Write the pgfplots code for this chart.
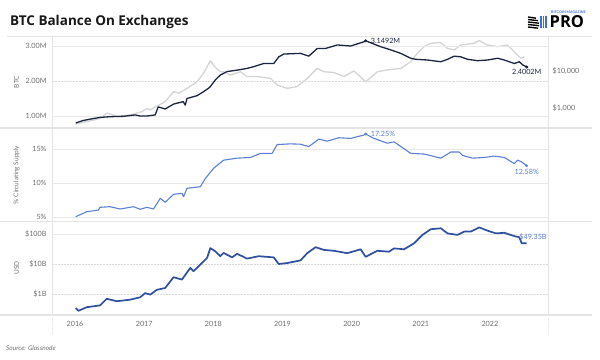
\documentclass[border=0pt]{standalone}
\usepackage{fontspec}
\setmainfont{Lato}
\newfontfamily\titlefont{Open Sans}
\usepackage{pgfplots}
\pgfplotsset{compat=1.18}
\definecolor{navy}{HTML}{1C2541}
\definecolor{pricegray}{HTML}{D4D4D4}
\definecolor{pctblue}{HTML}{5B80D6}
\definecolor{usdblue}{HTML}{2F4F9F}
\definecolor{tickgray}{HTML}{707070}
\definecolor{sepgray}{HTML}{E4E4E4}
\definecolor{logoblue}{HTML}{3D6FD8}

\pgfplotsset{
  panel/.style={
    scale only axis, width=496bp, xmin=2015.667, xmax=2022.84,
    anchor=south west,
    axis line style={draw=none}, major tick length=0pt, minor tick length=0pt,
    tick style={draw=none},
    ticklabel style={font=\fontsize{7.2bp}{8bp}\selectfont, text=tickgray},
    /pgf/number format/assume math mode=true,
    major grid style={draw=gray!18, line width=0.5bp},
    yticklabel style={xshift=-2bp},
    clip=false,
  }
}

\begin{document}
\begin{tikzpicture}
\useasboundingbox (0,0) rectangle (600bp,360bp);
\fill[white] (0,0) rectangle (600bp,360bp);

% frame lines
\draw[sepgray, line width=0.6bp] (7bp,324bp) -- (592bp,324bp);
\draw[sepgray, line width=1.6bp] (0bp,232bp) -- (592bp,232bp);
\draw[sepgray, line width=1.6bp] (0bp,138.5bp) -- (592bp,138.5bp);
\draw[sepgray, line width=1.6bp] (0bp,45bp) -- (592bp,45bp);
\draw[sepgray, line width=0.8bp] (52bp,324bp) -- (52bp,45bp);
\draw[sepgray, line width=0.8bp, densely dotted] (52bp,45bp) -- (52bp,27bp);
\draw[sepgray, line width=1bp] (548bp,324bp) -- (548bp,45bp);
\draw[sepgray, line width=1bp, densely dotted] (548bp,45bp) -- (548bp,27bp);

% title
\node[anchor=base west, inner sep=0pt, font=\titlefont\bfseries\fontsize{13.5bp}{15bp}\selectfont, text=black!90] at (10bp,334.5bp) {BTC Balance On Exchanges};
% source
\node[anchor=base west, inner sep=0pt, font=\itshape\fontsize{6.5bp}{8bp}\selectfont, text=tickgray] at (6bp,9.5bp) {Source: Glassnode};

% logo
\foreach \yy/\ll in {343/8,340.5/10,338/11,335.5/11,333/10}{
  \draw[black, line width=1.4bp] (528bp,\yy bp) -- ++(\ll bp,-1.2bp);
}
\foreach \xx in {541,543.5,546}{
  \draw[logoblue, line width=1.3bp] (\xx bp,344bp) -- (\xx bp,332bp);
}
\node[anchor=base west, inner sep=0pt, font=\bfseries\fontsize{3.6bp}{4bp}\selectfont, text=logoblue] at (551bp,346bp) {BITCOIN MAGAZINE};
\node[anchor=base west, inner sep=0pt, font=\titlefont\bfseries\fontsize{16.5bp}{18bp}\selectfont, text=black] at (549.5bp,332bp) {PRO};

% axis titles
\node[rotate=90, font=\fontsize{6.5bp}{8bp}\selectfont, text=tickgray] at (16.5bp,278bp) {BTC};
\node[rotate=90, font=\fontsize{6.5bp}{8bp}\selectfont, text=tickgray] at (16.5bp,185bp) {\% Circulating Supply};
\node[rotate=90, font=\fontsize{6.5bp}{8bp}\selectfont, text=tickgray] at (16.5bp,92bp) {USD};

% right-axis labels of the top panel (10,000 at 62.0% and 1,000 at 21.7% of the log range 288..88300)
\node[anchor=west, inner sep=0pt, font=\fontsize{7.2bp}{8bp}\selectfont, text=tickgray] at (552.5bp,289bp) {\$10,000};
\node[anchor=west, inner sep=0pt, font=\fontsize{7.2bp}{8bp}\selectfont, text=tickgray] at (552.5bp,252bp) {\$1,000};

% ---------- top panel: price (right axis) ----------
\begin{axis}[panel, at={(52bp,232bp)}, height=92bp,
  ymode=log, ymin=288, ymax=88300,
  xtick=\empty, ytick=\empty]
\addplot[pricegray, line width=1.3bp, line join=round] table {
2016.010 369
2016.170 427
2016.362 525
2016.459 724
2016.604 603
2016.797 646
2016.967 794
2017.039 977
2017.087 891
2017.184 1122
2017.304 1479
2017.425 2754
2017.497 2512
2017.619 3388
2017.764 5129
2017.859 8710
2017.957 19000
2018.029 12500
2018.101 9550
2018.149 9550
2018.246 7762
2018.391 9550
2018.488 7079
2018.633 7079
2018.826 6310
2018.923 4169
2019.068 3388
2019.213 3802
2019.358 6310
2019.503 11749
2019.599 9550
2019.743 9120
2019.888 7079
2020.033 10000
2020.203 5129
2020.275 6607
2020.372 9550
2020.517 10715
2020.710 11749
2020.855 17783
2020.952 30200
2021.048 45709
2021.145 56234
2021.290 58884
2021.387 40738
2021.483 37154
2021.580 50119
2021.772 56234
2021.845 66069
2021.967 50119
2022.112 45709
2022.255 50119
2022.352 33113
2022.449 21878
2022.497 24547
};
\end{axis}

% ---------- top panel: BTC balance ----------
\begin{axis}[panel, at={(52bp,232bp)}, height=92bp,
  ymin=0.657, ymax=3.286, xtick=\empty,
  ytick={1,3}, yticklabels={1.00M,3.00M}, ymajorgrids,
  extra y ticks={2}, extra y tick labels={2.00M},
  extra y tick style={ymajorgrids, major grid style={draw=gray!30, densely dotted, line width=0.5bp}}]
\addplot[navy, line width=1.3bp, line join=round] table {
2016.010 0.80
2016.116 0.87
2016.217 0.91
2016.362 0.96
2016.507 0.98
2016.696 0.99
2016.870 1.03
2016.942 1.00
2017.039 1.00
2017.159 1.03
2017.203 1.26
2017.304 1.20
2017.425 1.34
2017.565 1.41
2017.594 1.31
2017.619 1.50
2017.764 1.58
2017.855 1.69
2017.928 1.79
2017.957 1.84
2018.029 2.03
2018.101 2.17
2018.199 2.27
2018.343 2.31
2018.488 2.36
2018.584 2.41
2018.729 2.50
2018.874 2.50
2018.946 2.69
2019.019 2.77
2019.261 2.79
2019.381 2.71
2019.503 2.93
2019.623 2.93
2019.793 3.03
2019.986 3.00
2020.178 3.12
2020.203 3.1492
2020.420 2.98
2020.565 2.89
2020.710 2.79
2020.855 2.65
2020.928 2.62
2021.097 2.60
2021.290 2.55
2021.387 2.62
2021.483 2.71
2021.580 2.69
2021.677 2.62
2021.822 2.58
2021.967 2.60
2022.112 2.65
2022.207 2.60
2022.352 2.50
2022.425 2.55
2022.474 2.46
2022.532 2.4002
};
\addplot[only marks, mark=*, mark size=1.3bp, navy] table {
2020.203 3.1492
2022.532 2.4002
};
\node[anchor=west, inner sep=0pt, font=\fontsize{7.2bp}{8bp}\selectfont, text=navy] at (axis cs:2020.203,3.1492) [xshift=5bp] {3.1492M};
\node[anchor=north, inner sep=0pt, font=\fontsize{7.2bp}{8bp}\selectfont, text=navy] at (axis cs:2022.532,2.4002) [yshift=-2.5bp] {2.4002M};
\end{axis}

% ---------- middle panel: % circulating supply ----------
\begin{axis}[panel, at={(52bp,139bp)}, height=92bp,
  ymin=4.456, ymax=17.985, xtick=\empty,
  ytick={5,10,15}, yticklabels={5\%,10\%,15\%}, ymajorgrids]
\addplot[pctblue, line width=1.1bp, line join=round] table {
2016.010 5.09
2016.170 5.82
2016.338 6.07
2016.362 6.47
2016.507 6.56
2016.652 6.22
2016.845 6.56
2016.942 6.18
2017.039 6.47
2017.135 6.22
2017.232 7.79
2017.304 7.21
2017.425 8.38
2017.546 8.53
2017.570 8.03
2017.619 9.26
2017.812 9.50
2017.884 10.7
2018.004 12.2
2018.149 13.4
2018.343 13.7
2018.536 13.8
2018.681 14.4
2018.851 14.4
2018.923 15.7
2019.116 15.8
2019.261 15.75
2019.381 15.4
2019.526 16.5
2019.648 16.2
2019.816 16.7
2019.986 16.6
2020.178 17.1
2020.203 17.25
2020.323 16.6
2020.517 15.9
2020.613 16.1
2020.855 14.4
2021.048 14.3
2021.290 13.7
2021.435 14.6
2021.555 14.6
2021.604 14.1
2021.749 13.7
2021.917 13.8
2022.062 14.0
2022.207 13.8
2022.352 12.9
2022.400 13.4
2022.449 13.2
2022.532 12.58
};
\addplot[only marks, mark=*, mark size=1.2bp, pctblue] table {
2020.203 17.25
2022.532 12.58
};
\node[anchor=west, inner sep=0pt, font=\fontsize{7.2bp}{8bp}\selectfont, text=pctblue] at (axis cs:2020.203,17.25) [xshift=5bp] {17.25\%};
\node[anchor=north, inner sep=0pt, font=\fontsize{7.2bp}{8bp}\selectfont, text=pctblue] at (axis cs:2022.532,12.58) [yshift=-3bp] {12.58\%};
\end{axis}

% ---------- bottom panel: USD ----------
\begin{axis}[panel, at={(52bp,45bp)}, height=93bp,
  ymode=log, ymin=0.1995, ymax=251,
  xtick={2016,2017,2018,2019,2020,2021,2022},
  xticklabels={2016,2017,2018,2019,2020,2021,2022},
  xticklabel style={yshift=-3bp},
  ytick={100}, yticklabels={\$100B}, ymajorgrids,
  extra y ticks={1,10}, extra y tick labels={\$1B,\$10B},
  extra y tick style={ymajorgrids, major grid style={draw=gray!30, densely dotted, line width=0.5bp}}]
\addplot[usdblue, line width=1.7bp, line join=round] table {
2016.010 0.339
2016.048 0.275
2016.170 0.363
2016.362 0.417
2016.459 0.692
2016.604 0.575
2016.797 0.646
2016.942 0.776
2017.014 1.072
2017.087 0.955
2017.184 1.380
2017.304 1.585
2017.425 3.631
2017.546 3.020
2017.667 7.413
2017.714 5.754
2017.812 9.550
2017.909 15.85
2017.957 33.88
2018.029 26.30
2018.101 18.20
2018.149 23.44
2018.271 16.60
2018.343 21.88
2018.488 15.14
2018.657 18.20
2018.874 16.60
2018.946 10.00
2019.068 10.72
2019.261 13.20
2019.358 22.91
2019.478 36.31
2019.599 29.51
2019.743 27.54
2019.938 22.91
2020.130 30.90
2020.203 17.38
2020.372 27.54
2020.541 25.70
2020.613 33.11
2020.758 30.90
2020.903 48.98
2021.025 93.33
2021.145 144.5
2021.290 154.9
2021.387 104.7
2021.532 93.33
2021.628 120.2
2021.725 120.2
2021.845 166.0
2021.967 128.8
2022.087 104.7
2022.207 109.6
2022.352 85.11
2022.425 77.62
2022.459 48.98
2022.532 49.35
};
\node[anchor=south west, inner sep=0pt, font=\fontsize{7.2bp}{8bp}\selectfont, text=pctblue] at (axis cs:2022.532,49.35) [xshift=-7.5bp, yshift=3bp] {\$49.35B};
\end{axis}
\end{tikzpicture}
\end{document}
